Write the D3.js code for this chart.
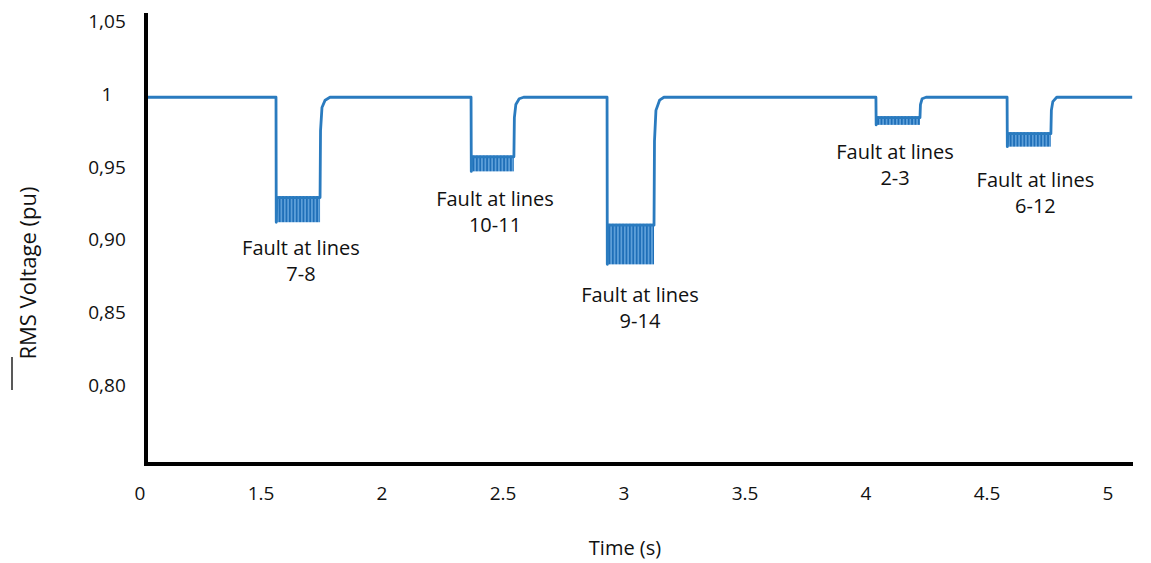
<!DOCTYPE html>
<html>
<head>
<meta charset="utf-8">
<script src="https://cdn.jsdelivr.net/npm/d3@7"></script>
<style>
  body { margin: 0; background: #fff; }
  text { font-family: 'Open Sans', sans-serif; fill: #111; }
</style>
</head>
<body>
<script>
// x ticks (the first label reads "0" in the source figure)
const xTicks = [1, 1.5, 2, 2.5, 3, 3.5, 4, 4.5, 5];
const xTickLabels = ['0', '1.5', '2', '2.5', '3', '3.5', '4', '4.5', '5'];
const yTicks = [1.05, 1.0, 0.95, 0.90, 0.85, 0.80];
const yTickLabels = ['1,05', '1', '0,95', '0,90', '0,85', '0,80'];

// mean RMS voltage trace [time, pu]
const signal = [
  [1.03, 0.998], [1.562, 0.998], [1.563, 0.912], [1.566, 0.929], [1.744, 0.929],
  [1.746, 0.975], [1.752, 0.991], [1.765, 0.996], [1.785, 0.998],
  [2.368, 0.998], [2.369, 0.947], [2.372, 0.957], [2.545, 0.957],
  [2.547, 0.984], [2.553, 0.993], [2.567, 0.997], [2.585, 0.998],
  [2.930, 0.998], [2.931, 0.883], [2.934, 0.910], [3.124, 0.910],
  [3.126, 0.968], [3.132, 0.989], [3.147, 0.996], [3.165, 0.998],
  [4.041, 0.998], [4.042, 0.979], [4.045, 0.984], [4.223, 0.984],
  [4.225, 0.993], [4.232, 0.997], [4.248, 0.998],
  [4.583, 0.998], [4.584, 0.964], [4.587, 0.973], [4.764, 0.973],
  [4.766, 0.989], [4.772, 0.995], [4.788, 0.998], [5.10, 0.998]
];

// oscillation envelope during each fault
const faultStart = [1.565, 2.371, 2.933, 4.044, 4.586];
const faultEnd   = [1.744, 2.545, 3.124, 4.223, 4.764];
const faultLow   = [0.912, 0.947, 0.883, 0.979, 0.964];
const faultHigh  = [0.930, 0.958, 0.911, 0.985, 0.974];
const faultLines = ['7-8', '10-11', '9-14', '2-3', '6-12'];
// label anchors [time, pu]
const labelAt = [[1.665, 0.8944], [2.467, 0.928], [3.066, 0.862], [4.12, 0.960], [4.70, 0.941]];

const width = 1151, height = 563;
const plotLeft = 146, plotRight = 1133, plotTop = 13, plotBottom = 464;

const svg = d3.select('body').append('svg')
  .attr('width', width)
  .attr('height', height);

const defs = svg.append('defs');
const pat = defs.append('pattern')
  .attr('id', 'osc')
  .attr('patternUnits', 'userSpaceOnUse')
  .attr('width', 3.4)
  .attr('height', 10);
pat.append('rect').attr('width', 3.4).attr('height', 10).attr('fill', '#5d9fd9');
pat.append('rect').attr('width', 1.7).attr('height', 10).attr('fill', '#1f6fb8');

const x = d3.scaleLinear().domain([1, 5]).range([140, 1108]);
const y = d3.scaleLinear().domain([0.7456, 1.056]).range([plotBottom, plotTop]);

// fault bands
faultStart.forEach((t0, i) => {
  svg.append('rect')
    .attr('x', x(t0))
    .attr('y', y(faultHigh[i]))
    .attr('width', x(faultEnd[i]) - x(t0))
    .attr('height', y(faultLow[i]) - y(faultHigh[i]))
    .attr('fill', 'url(#osc)');
});

const line = d3.line().x(d => x(d[0])).y(d => y(d[1]));
svg.append('path')
  .datum(signal)
  .attr('d', line)
  .attr('fill', 'none')
  .attr('stroke', '#2a7bbf')
  .attr('stroke-width', 2.8)
  .attr('stroke-linejoin', 'round');

// axes
svg.append('line')
  .attr('x1', plotLeft).attr('x2', plotLeft)
  .attr('y1', plotTop).attr('y2', plotBottom)
  .attr('stroke', '#000').attr('stroke-width', 4);
svg.append('line')
  .attr('x1', plotLeft - 2).attr('x2', plotRight)
  .attr('y1', plotBottom).attr('y2', plotBottom)
  .attr('stroke', '#000').attr('stroke-width', 4);

svg.selectAll('.ytick')
  .data(yTicks)
  .enter()
  .append('text')
  .attr('class', 'ytick')
  .attr('x', 107)
  .attr('y', d => y(d))
  .attr('dy', '0.35em')
  .attr('text-anchor', 'middle')
  .style('font-size', '19px')
  .text((d, i) => yTickLabels[i]);

svg.selectAll('.xtick')
  .data(xTicks)
  .enter()
  .append('text')
  .attr('class', 'xtick')
  .attr('x', d => x(d))
  .attr('y', 493)
  .attr('dy', '0.35em')
  .attr('text-anchor', 'middle')
  .style('font-size', '19px')
  .text((d, i) => xTickLabels[i]);

svg.append('text')
  .attr('x', 625)
  .attr('y', 548)
  .attr('dy', '0.35em')
  .attr('text-anchor', 'middle')
  .style('font-size', '20px')
  .text('Time (s)');

svg.append('text')
  .attr('transform', 'rotate(-90)')
  .attr('x', -273)
  .attr('y', 28)
  .attr('dy', '0.35em')
  .attr('text-anchor', 'middle')
  .style('font-size', '22px')
  .text('RMS Voltage (pu)');

svg.append('line')
  .attr('x1', 12).attr('x2', 12)
  .attr('y1', 357).attr('y2', 390)
  .attr('stroke', '#222').attr('stroke-width', 1.5);

// fault labels
labelAt.forEach((p, i) => {
  const t = svg.append('text')
    .attr('text-anchor', 'middle')
    .style('font-size', '20px');
  t.append('tspan')
    .attr('x', x(p[0]))
    .attr('y', y(p[1]))
    .attr('dy', '0.35em')
    .text('Fault at lines');
  t.append('tspan')
    .attr('x', x(p[0]))
    .attr('y', y(p[1]) + 26)
    .attr('dy', '0.35em')
    .text(faultLines[i]);
});
</script>
</body>
</html>
